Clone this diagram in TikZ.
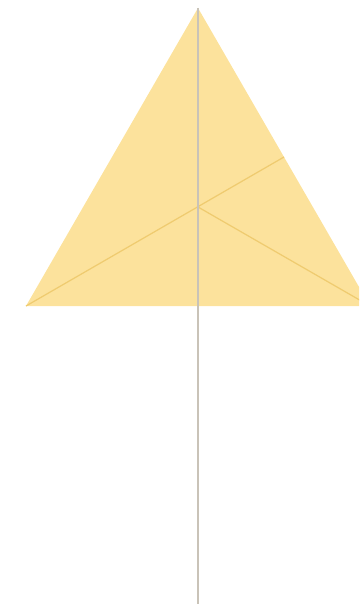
\documentclass[tikz,border=0pt]{standalone}
\usepackage{tikz}
\usetikzlibrary{calc}
\definecolor{trifill}{HTML}{FCE29C}
\definecolor{triline}{HTML}{EFCB70}
\definecolor{axisgray}{HTML}{C9C3B8}
\begin{document}
\begin{tikzpicture}[x=0.02cm,y=-0.02cm]
\clip (0,0) rectangle (359,611);
\useasboundingbox (0,0) rectangle (359,611);
\coordinate (tri_top) at (198,8);
\coordinate (tri_left) at (26,306);
\coordinate (tri_right) at (370,306);
\coordinate (tri_mid) at ($(tri_top)!0.5!(tri_right)$);
\coordinate (tri_c) at (198,207);
\coordinate (axis_end) at (198,604);
\fill[trifill] (tri_top)--(tri_left)--(tri_right)--cycle;
\draw[triline,line width=0.7pt] (tri_left)--(tri_mid);
\draw[triline,line width=0.7pt] (tri_c)--(tri_right);
\draw[axisgray,line width=0.7pt] (tri_top)--(axis_end);
\end{tikzpicture}
\end{document}
